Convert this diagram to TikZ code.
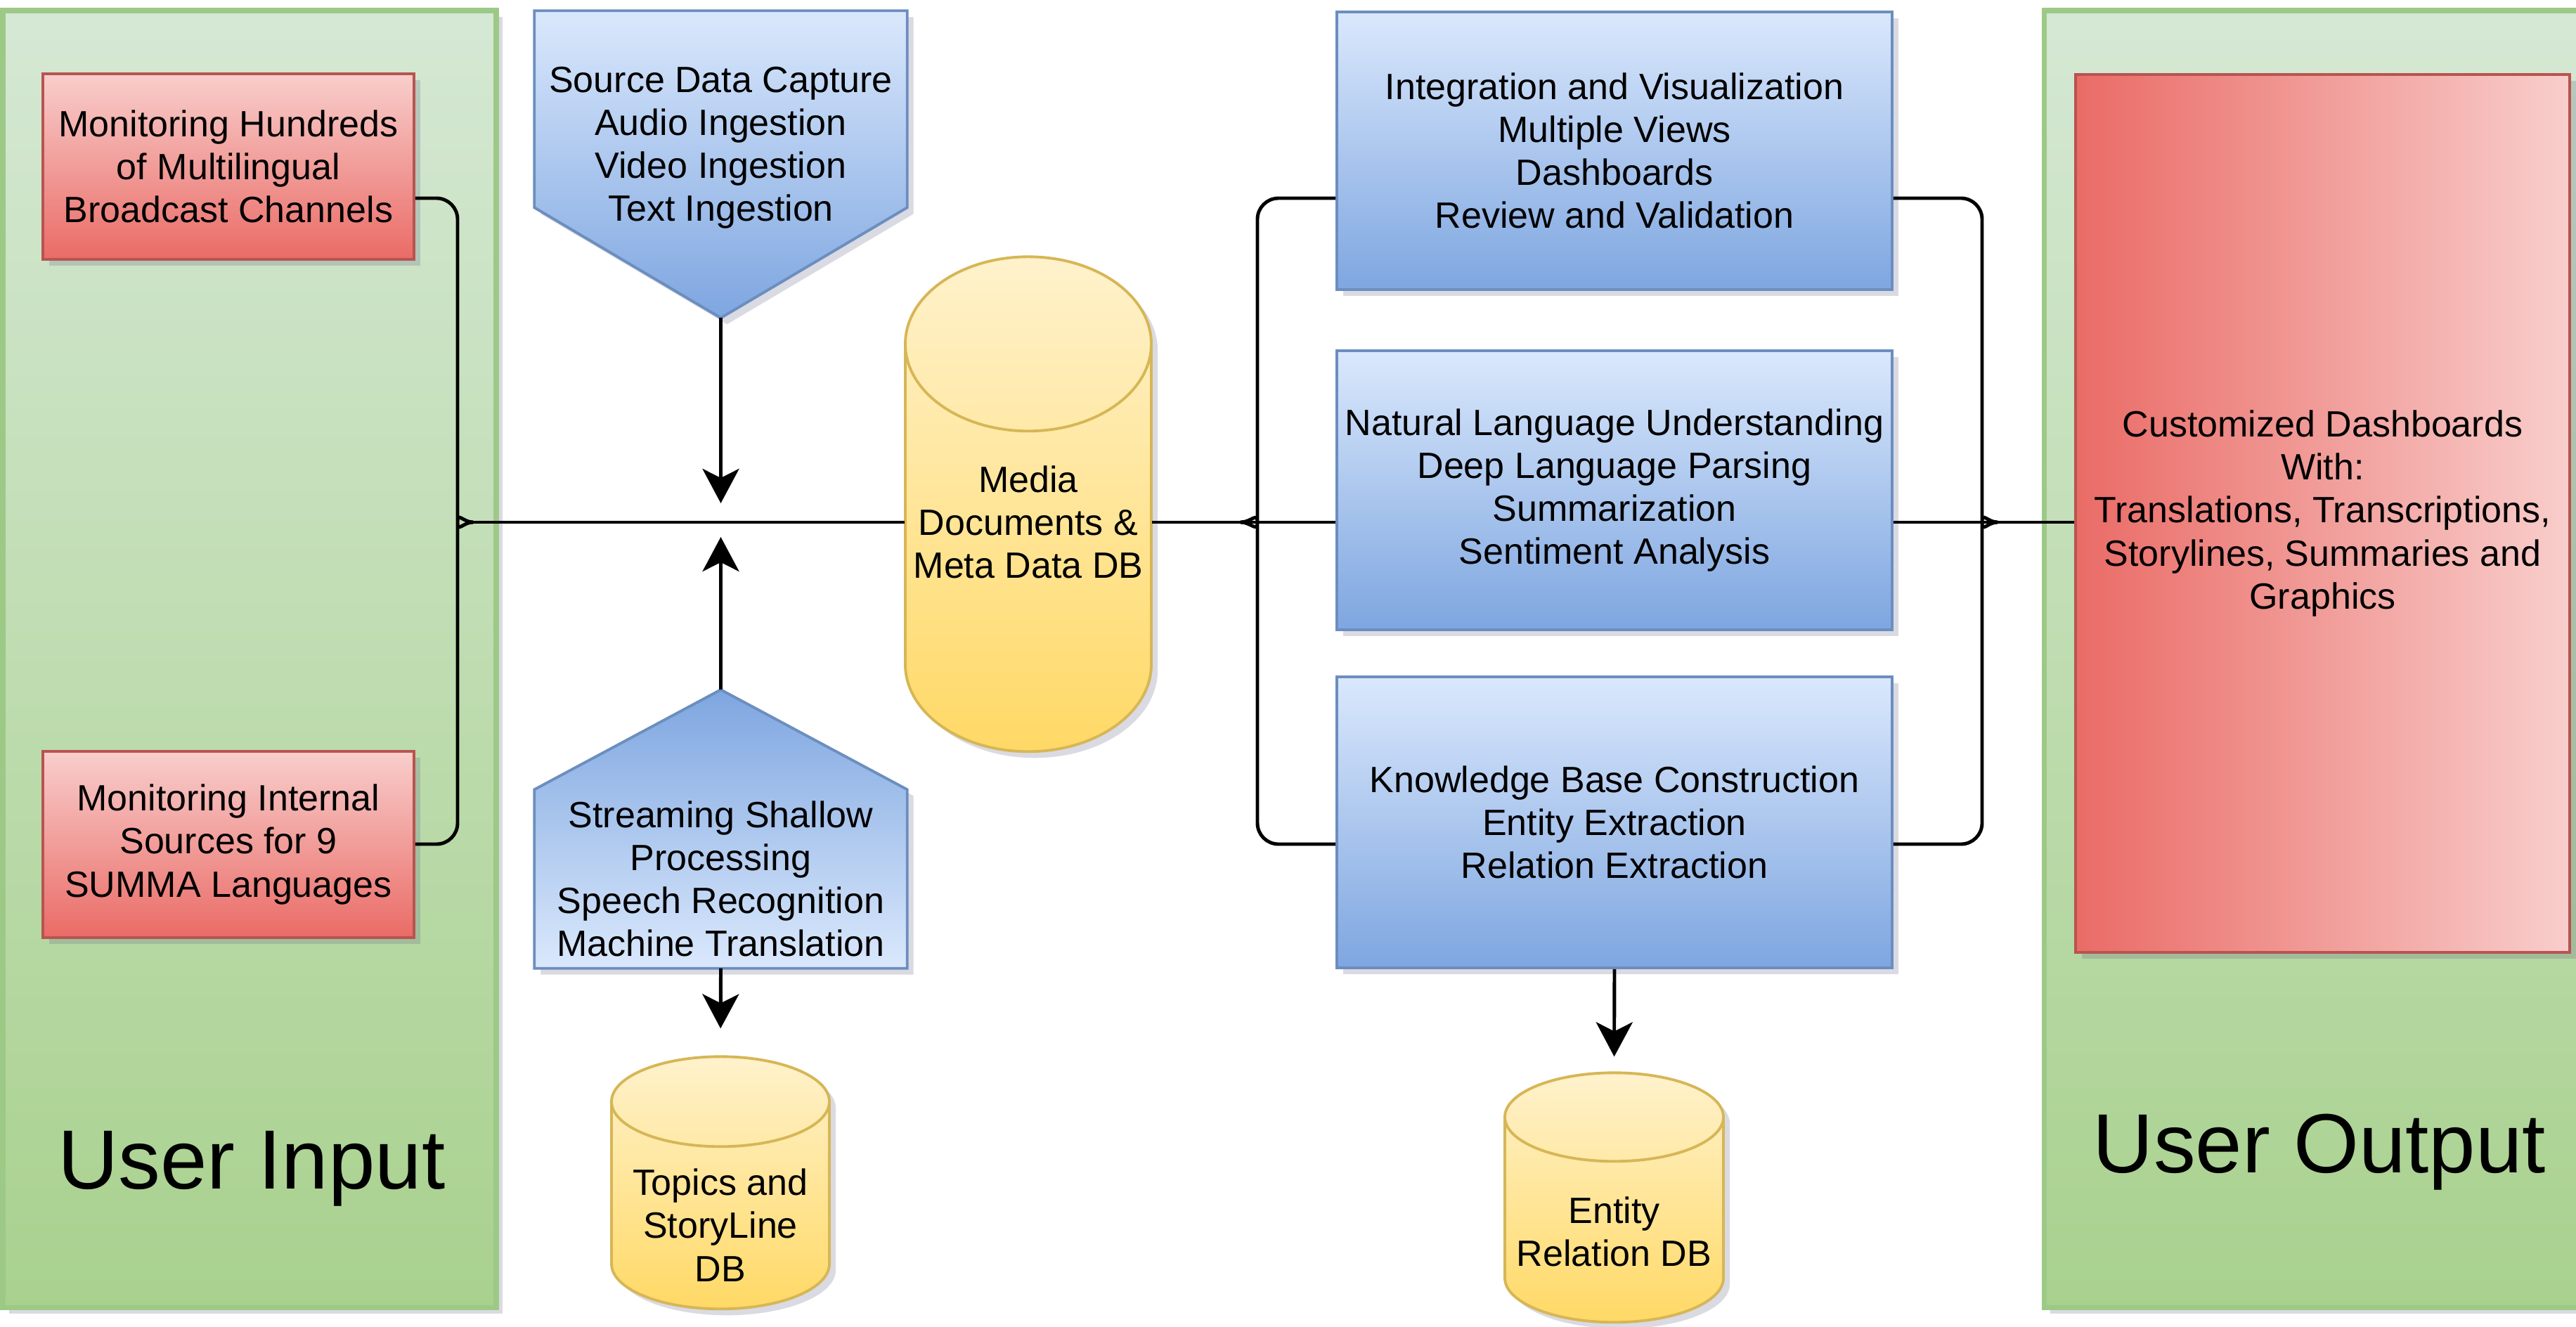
\documentclass[tikz,border=0pt]{standalone}
\usepackage{fontspec}
\setmainfont{Liberation Sans}
\usetikzlibrary{calc, shadows, arrows.meta}
\pgfdeclarelayer{back}
\pgfsetlayers{back,main}

\definecolor{grtop}{HTML}{D5E8D4}
\definecolor{grbot}{HTML}{A9D18E}
\definecolor{grline}{HTML}{9DC986}
\definecolor{redtop}{HTML}{F8CECC}
\definecolor{redbot}{HTML}{EA6B66}
\definecolor{redline}{HTML}{B85450}
\definecolor{bluetop}{HTML}{DAE8FC}
\definecolor{bluebot}{HTML}{7EA6E0}
\definecolor{blueline}{HTML}{6C8EBF}
\definecolor{dbtop}{HTML}{FFF2CC}
\definecolor{dbbot}{HTML}{FFD966}
\definecolor{dbline}{HTML}{D6B656}
\definecolor{shadowcol}{HTML}{6A6A8A}

\begin{document}
\begin{tikzpicture}[
    font=\fontsize{14.8}{17.4}\selectfont,
    boxshadow/.style={drop shadow={shadow xshift=0.09cm, shadow yshift=-0.09cm, opacity=0.25, fill=shadowcol}},
    panel/.style={draw=grline, line width=2pt, top color=grtop, bottom color=grbot, boxshadow},
    redbox/.style={draw=redline, line width=1.1pt, top color=redtop, bottom color=redbot, align=center, minimum width=5.28cm, boxshadow},
    dashbox/.style={draw=redline, line width=1.1pt, left color=redbot, right color=redtop, align=center, boxshadow},
    bluebox/.style={draw=blueline, line width=1.1pt, top color=bluetop, bottom color=bluebot, align=center, minimum width=7.90cm, boxshadow},
    pentagon/.style={draw=blueline, line width=1.1pt, top color=bluetop, bottom color=bluebot, boxshadow},
    dbfill/.style={draw=dbline, line width=1.1pt, top color=dbtop, bottom color=dbbot, boxshadow},
    textbox/.style={align=center, inner sep=0pt, minimum width=5.29cm},
    dbnode/.style={align=center, inner sep=0pt},
    title/.style={font=\fontsize{34}{40}\selectfont, anchor=base},
    link/.style={line width=1.4pt},
    flow/.style={link, -{Stealth[length=0.49cm, width=0.52cm, inset=0.13cm]}}
  ]
  \useasboundingbox (0,0) rectangle (36.65,-18.88);
  \clip (0,0) rectangle (36.65,-18.88);

  % Panels
  \node[panel, minimum width=7.02cm, minimum height=18.45cm] (inpanel) at (3.55,-9.375) {};
  \node[panel, minimum width=7.92cm, minimum height=18.45cm] (outpanel) at (33.04,-9.375) {};
  \node[title] (intitle) at (3.58,-16.91) {User Input};
  \node[title] (outtitle) at (33.00,-16.68) {User Output};

  % Sources
  \node[redbox, minimum height=2.64cm] (red1) at (3.25,-2.37) {Monitoring Hundreds\\of Multilingual\\Broadcast Channels};
  \node[redbox, minimum height=2.65cm] (red2) at (3.25,-12.015) {Monitoring Internal\\Sources for 9\\SUMMA Languages};

  % Ingestion (outlines on back layer)
  \node[textbox, minimum height=3.88cm] (src) at (10.255,-2.10) {Source Data Capture\\Audio Ingestion\\Video Ingestion\\Text Ingestion};
  \node[textbox, minimum height=2.53cm] (stream) at (10.255,-12.505) {Streaming Shallow\\Processing\\Speech Recognition\\Machine Translation};
  \coordinate (srctip) at ($(src.north)+(0,-4.37)$);
  \coordinate (streamtip) at ($(stream.north)+(0,1.42)$);

  % Databases
  \node[dbnode, minimum width=3.50cm, minimum height=7.54cm] (media) at (14.63,-7.43) {Media\\Documents \&\\Meta Data DB};
  \node[dbnode, minimum width=3.10cm, minimum height=4.78cm] (topics) at (10.25,-17.43) {Topics and\\StoryLine\\DB};
  \node[dbnode, minimum width=3.11cm, minimum height=4.50cm] (entrel) at (22.965,-17.52) {Entity\\Relation DB};

  % Analysis
  \node[bluebox, minimum height=3.95cm] (view) at (22.97,-2.145) {Integration and Visualization\\Multiple Views\\Dashboards\\Review and Validation};
  \node[bluebox, minimum height=3.97cm] (nlu) at (22.97,-6.975) {Natural Language Understanding\\Deep Language Parsing\\Summarization\\Sentiment Analysis};
  \node[bluebox, minimum height=4.14cm] (kb) at (22.97,-11.70) {Knowledge Base Construction\\Entity Extraction\\Relation Extraction};

  % Output
  \node[dashbox, minimum width=7.03cm, minimum height=12.49cm] (dash) at (33.045,-7.305) {Customized Dashboards\\With:\\Translations, Transcriptions,\\Storylines, Summaries and\\Graphics};

  \begin{pgfonlayer}{back}
    \path[pentagon] (src.north west) -- (src.north east) -- ($(src.north east)+(0,-2.80)$) -- (srctip) -- ($(src.north west)+(0,-2.80)$) -- cycle;
    \path[pentagon, top color=bluebot, bottom color=bluetop] (stream.south west) -- (stream.north west) -- (streamtip) -- (stream.north east) -- (stream.south east) -- cycle;
    \foreach \c/\rx/\ry/\h in {media/1.75/1.24/7.04, topics/1.55/0.64/3.59, entrel/1.555/0.63/3.55}{
      \path[dbfill] ($(\c.north)+(-\rx,-\ry)$) arc[start angle=180, end angle=0, x radius=\rx, y radius=\ry]
        -- ++(0,-\h+2*\ry) arc[start angle=0, end angle=-180, x radius=\rx, y radius=\ry] -- cycle;
      \draw[draw=dbline, line width=1.1pt] ($(\c.north)+(-\rx,-\ry)$) arc[start angle=180, end angle=360, x radius=\rx, y radius=\ry];
    }
  \end{pgfonlayer}

  % Junctions
  \coordinate (rowtop) at (0,-2.82);
  \coordinate (rowbot) at (0,-12.01);
  \coordinate (ljoin) at (6.73,-7.43);
  \coordinate (rjoin) at (17.65,-7.43);
  \coordinate (ojoin) at (28.42,-7.43);
  \coordinate (cross) at (10.255,-7.43);

  % Left brace
  \draw[link, rounded corners=0.3cm] (red1.east |- rowtop) -| ($(ljoin)+(-0.22,0.3)$) to[out=-90,in=180] (ljoin);
  \draw[link, rounded corners=0.3cm] (red2.east |- rowbot) -| ($(ljoin)+(-0.22,-0.3)$) to[out=90,in=180] (ljoin);
  \draw[link] (ljoin) -- (media.west);

  % Arrows
  \draw[flow, shorten >=0.27cm] (srctip) -- (cross);
  \draw[flow, shorten >=0.21cm] (streamtip) -- (cross);
  \draw[flow, shorten >=0.40cm] (stream.south) -- (topics.north);
  \draw[flow, shorten >=0.23cm] (kb.south) -- (entrel.north);

  % Right of media
  \draw[link] (media.east) -- (rjoin) -- (nlu.west |- rjoin);
  \draw[link, rounded corners=0.3cm] (rjoin) to[out=0,in=-90] ($(rjoin)+(0.24,0.3)$) |- (view.west |- rowtop);
  \draw[link, rounded corners=0.3cm] (rjoin) to[out=0,in=90] ($(rjoin)+(0.24,-0.3)$) |- (kb.west |- rowbot);

  % Into the dashboard
  \draw[link, rounded corners=0.3cm] (view.east |- rowtop) -| ($(ojoin)+(-0.22,0.3)$) to[out=-90,in=180] (ojoin);
  \draw[link, rounded corners=0.3cm] (kb.east |- rowbot) -| ($(ojoin)+(-0.22,-0.3)$) to[out=90,in=180] (ojoin);
  \draw[link] (nlu.east |- ojoin) -- (ojoin) -- (dash.west |- ojoin);
\end{tikzpicture}
\end{document}
